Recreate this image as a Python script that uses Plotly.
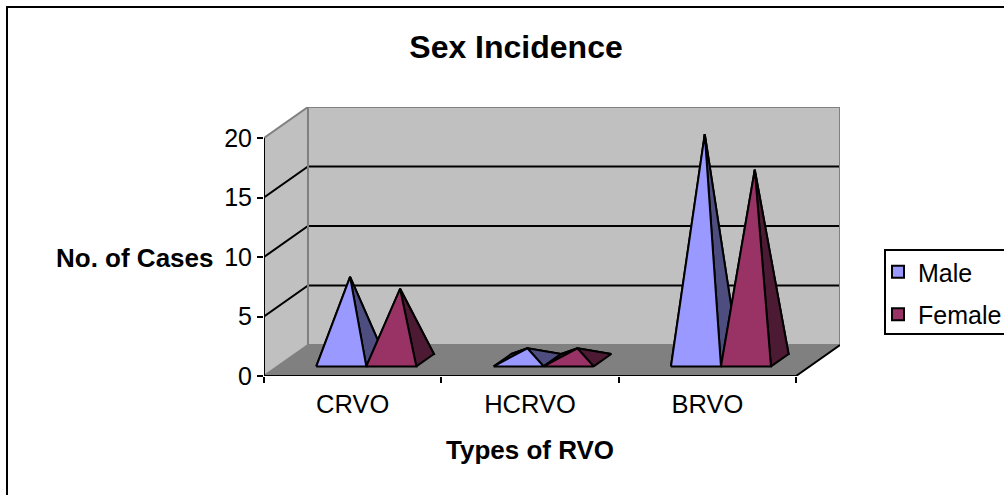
import plotly.graph_objects as go

# ---- data ----
categories = ["CRVO", "HCRVO", "BRVO"]
male = [7, 1, 19]
female = [6, 1, 16]
y_ticks = [0, 5, 10, 15, 20]

# ---- style ----
W, H = 1004, 495
L, R, T, B = 264, 840, 107, 376
DX, DY = 0.248, 2.605          # oblique depth, in axis units
D0, D1 = 0.31, 0.71            # base depth range of each pyramid
BASE = 0.282                   # base width, in categories
FONT = "Liberation Sans"
MALE_FRONT, MALE_SIDE = "#9999FF", "#4D4D80"
FEM_FRONT, FEM_SIDE = "#993366", "#4D1A33"
WALL, FLOOR, EDGE = "#C0C0C0", "#808080", "#808080"


def px(x):
    return (x - L) / (R - L)


def py(y):
    return (B - y) / (B - T)


fig = go.Figure()


def poly(xs, ys, fill=None, line="black", width=2):
    fig.add_trace(go.Scatter(
        x=xs, y=ys, mode="lines", showlegend=False, hoverinfo="skip", cliponaxis=False,
        fill="toself" if fill else None, fillcolor=fill,
        line=dict(color=line, width=width, simplify=False)))


n = len(categories)
# walls and floor
poly([0, DX, DX, 0, 0], [0, DY, 20 + DY, 20, 0], WALL, WALL, 0.1)
poly([DX, n + DX, n + DX, DX, DX], [DY, DY, 20 + DY, 20 + DY, DY], WALL, WALL, 0.1)
poly([0, n, n + DX, DX, 0], [0, 0, DY, DY, 0], FLOOR, FLOOR, 0.1)
# gridlines
for v in y_ticks[1:-1]:
    poly([0, DX, n + DX], [v, v + DY, v + DY], None, "black", 2)
# wall outlines
poly([0, DX, n + DX, n + DX, DX, DX, 0], [20, 20 + DY, 20 + DY, DY, DY, 20 + DY, 20], None, EDGE, 2)
poly([0, DX], [0, DY], None, EDGE, 2)
poly([n, n + DX], [0, DY], None, "black", 2)


def pyramid(center, value, front, side):
    hw = BASE / 2

    def pt(dx_cat, depth, h=0.0):
        return center + dx_cat + depth * DX, h + depth * DY
    a = pt(-hw, D0)
    b = pt(hw, D0)
    c = pt(hw, D1)
    d = pt(-hw, D1)
    e = pt(0, (D0 + D1) / 2, value)
    for face, colour in (((d, c, e), side), ((a, d, e), side), ((b, c, e), side), ((a, b, e), front)):
        pts = list(face) + [face[0]]
        poly([p[0] for p in pts], [p[1] for p in pts], colour)


for i in range(n):
    pyramid(i + 0.5 - BASE / 2, male[i], MALE_FRONT, MALE_SIDE)
    pyramid(i + 0.5 + BASE / 2, female[i], FEM_FRONT, FEM_SIDE)

# front axis lines
poly([0, n], [0, 0], None, "black", 2)
poly([0, 0], [0, 20], None, "black", 2)

# legend entries
for name, colour in (("Male", MALE_FRONT), ("Female", FEM_FRONT)):
    fig.add_trace(go.Scatter(
        x=[None], y=[None], mode="markers", name=name, legendgroup=name,
        marker=dict(symbol="square", size=14, color=colour, line=dict(color="black", width=2))))

fig.update_layout(
    width=W, height=H,
    margin=dict(l=L, r=W - R, t=T, b=H - B, pad=0, autoexpand=False),
    paper_bgcolor="white", plot_bgcolor="white",
    font=dict(family=FONT, color="black", size=25),
    title=dict(text="<b>Sex Incidence</b>", font=dict(size=32, family=FONT, color="black"),
               x=516 / W, xanchor="center", y=1 - 47 / H, yanchor="middle"),
    xaxis=dict(range=[0, n + DX], showgrid=False, zeroline=False, showline=False,
               tickmode="array", tickvals=[i + 0.5 for i in range(n)], ticktext=categories,
               ticks="", tickfont=dict(size=25.5), ticklabelstandoff=10,
               minor=dict(tickmode="array", tickvals=list(range(n + 1)), ticks="outside",
                          ticklen=6, tickwidth=2, tickcolor="black", showgrid=False)),
    yaxis=dict(range=[0, 20 + DY], showgrid=False, zeroline=False, showline=False,
               tickmode="array", tickvals=y_ticks, ticks="outside", ticklen=6, tickwidth=2,
               tickcolor="black", tickfont=dict(size=25)),
    legend=dict(x=px(878), xanchor="left", y=py(249), yanchor="top", bgcolor="rgba(0,0,0,0)",
                font=dict(size=25), tracegroupgap=7, traceorder="grouped", itemsizing="constant"),
    annotations=[
        dict(text="<b>No. of Cases</b>", xref="paper", yref="paper", x=px(216), y=py(258),
             xanchor="right", yanchor="middle", showarrow=False, font=dict(size=26)),
        dict(text="<b>Types of RVO</b>", xref="paper", yref="paper", x=px(530), y=py(450),
             xanchor="center", yanchor="middle", showarrow=False, font=dict(size=26)),
    ],
    shapes=[
        dict(type="rect", xref="paper", yref="paper", x0=px(7), x1=px(W + 10), y0=py(7), y1=py(H + 10),
             line=dict(color="black", width=2)),
        dict(type="rect", xref="paper", yref="paper", x0=px(885), x1=px(W + 10), y0=py(250), y1=py(334),
             line=dict(color="black", width=2)),
    ],
)

fig.write_html("out.html", config=dict(displayModeBar=False),
               post_script="document.body.style.margin='0';document.body.style.overflow='hidden';")
